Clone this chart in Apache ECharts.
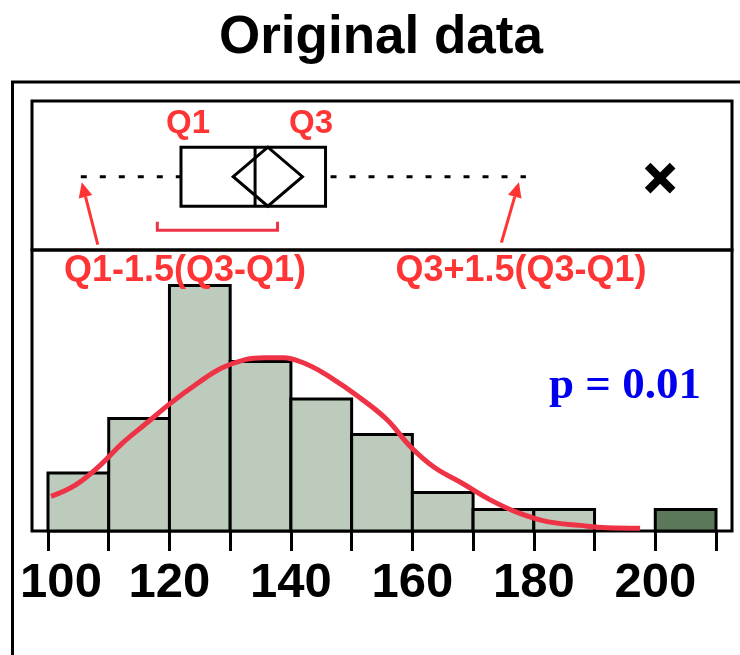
<!DOCTYPE html>
<html>
<head>
<meta charset="utf-8">
<script src="https://cdn.jsdelivr.net/npm/echarts@6/dist/echarts.min.js"></script>
<style>
  html, body { margin: 0; padding: 0; background: #fff; }
  #chart { width: 740px; height: 655px; }
</style>
</head>
<body>
<div id="chart"></div>
<script>
// histogram bins (left edges, width 10), percent of observations
const binEdges = [100, 110, 120, 130, 140, 150, 160, 170, 180]
const binPct = [6.2, 12.0, 26.2, 18.1, 14.1, 10.3, 4.1, 2.3, 2.3]
const binWidth = 10
// the outlying bin, drawn darker
const outlierBin = [200, 210, 2.3]

// fitted normal curve
const curveX = [100.5, 104.5, 108.4, 112.3, 116.2, 120.1, 124.7, 128.6, 132.5, 135.6, 138.7, 142.6, 146.5, 151.2, 155.8, 159.7, 163.6, 168.2, 172.9, 177.6, 182.2, 187.6, 192, 197.5]
const curveY = [3.7, 4.9, 6.9, 9.4, 11.5, 13.6, 15.8, 17.4, 18.3, 18.5, 18.5, 17.8, 16.4, 14.3, 11.9, 9.0, 6.8, 5.1, 3.3, 1.9, 1.0, 0.6, 0.35, 0.3]

// box plot: low whisker, Q1, median, Q3, high whisker
const boxStats = [105.4, 121.9, 134.1, 145.7, 178.7]
// mean diamond: lower, mean, upper
const meanDiamond = [130.5, 136.2, 141.9]
// red bracket under the box
const bracket = [118.0, 137.8]
const outliers = [200.8]

const xTicks = [100, 110, 120, 130, 140, 150, 160, 170, 180, 190, 200, 210]
const xTickLabels = [100, 120, 140, 160, 180, 200]

const red = '#ff3434'
const curveRed = '#ee3347'
const labelFont = '"Liberation Sans", Arial, sans-serif'

// panel runs 16px past the first and last tick (668px for 110 units)
const pad = 16 * 110 / 668
const xMin = 100 - pad
const xMax = 210 + pad

function arrow(tip, tail) {
  const dx = tip[0] - tail[0]
  const dy = tip[1] - tail[1]
  const len = Math.sqrt(dx * dx + dy * dy)
  const ux = dx / len
  const uy = dy / len
  const hl = 15
  const hw = 7
  const bx = tip[0] - ux * hl
  const by = tip[1] - uy * hl
  return [
    { type: 'line', shape: { x1: tail[0], y1: tail[1], x2: bx, y2: by }, style: { stroke: red, lineWidth: 3 } },
    { type: 'polygon', shape: { points: [tip, [bx - uy * hw, by + ux * hw], [bx + uy * hw, by - ux * hw]] }, style: { fill: red } },
  ]
}

function renderBox(params, api) {
  const cs = params.coordSys
  const yc = cs.y + cs.height * 0.508
  const hh = 29.5
  const px = v => api.coord([v, 0])[0]
  const wLo = px(boxStats[0])
  const q1 = px(boxStats[1])
  const med = px(boxStats[2])
  const q3 = px(boxStats[3])
  const wHi = px(boxStats[4])
  const dL = px(meanDiamond[0])
  const dM = px(meanDiamond[1])
  const dR = px(meanDiamond[2])
  const bL = px(bracket[0])
  const bR = px(bracket[1])
  const children = [
    { type: 'line', shape: { x1: wLo, y1: yc, x2: q1, y2: yc }, style: { stroke: '#000', lineWidth: 3, lineDash: [6, 13] } },
    { type: 'line', shape: { x1: q3, y1: yc, x2: wHi, y2: yc }, style: { stroke: '#000', lineWidth: 3, lineDash: [6, 13], lineDashOffset: 14 } },
    { type: 'rect', shape: { x: q1, y: yc - hh, width: q3 - q1, height: hh * 2 }, style: { fill: '#fff', stroke: '#000', lineWidth: 3 } },
    { type: 'line', shape: { x1: med, y1: yc - hh, x2: med, y2: yc + hh }, style: { stroke: '#000', lineWidth: 3 } },
    { type: 'polygon', shape: { points: [[dL, yc], [dM, yc - hh], [dR, yc], [dM, yc + hh]] }, style: { fill: 'none', stroke: '#000', lineWidth: 3 } },
    { type: 'polyline', shape: { points: [[bL, yc + 45], [bL, yc + 53.5], [bR, yc + 53.5], [bR, yc + 45]] }, style: { fill: 'none', stroke: curveRed, lineWidth: 3 } },
  ]
  outliers.forEach(v => {
    const ox = px(v)
    const oy = yc + 1.5
    const s = 12.5
    children.push({ type: 'line', shape: { x1: ox - s, y1: oy - s, x2: ox + s, y2: oy + s }, style: { stroke: '#000', lineWidth: 8 } })
    children.push({ type: 'line', shape: { x1: ox - s, y1: oy + s, x2: ox + s, y2: oy - s }, style: { stroke: '#000', lineWidth: 8 } })
  })
  arrow([wLo + 1, yc + 5.5], [wLo + 17, yc + 68]).forEach(c => children.push(c))
  arrow([wHi - 7, yc + 5.5], [wHi - 24.5, yc + 66]).forEach(c => children.push(c))
  return { type: 'group', children }
}

function renderBar(fill) {
  return function (params, api) {
    const a = api.coord([api.value(0), 0])
    const b = api.coord([api.value(1), api.value(2)])
    return {
      type: 'rect',
      shape: { x: a[0], y: b[1], width: b[0] - a[0], height: a[1] - b[1] },
      style: { fill, stroke: '#000', lineWidth: 3 },
    }
  }
}

const option = {
  animation: false,
  grid: [
    { left: 32, top: 101, width: 700, height: 149, show: true, borderColor: '#000', borderWidth: 3, backgroundColor: 'transparent' },
    { left: 32, top: 250, width: 700, height: 281, show: true, borderColor: '#000', borderWidth: 3, backgroundColor: 'transparent' },
  ],
  xAxis: [
    { gridIndex: 0, type: 'value', min: xMin, max: xMax, show: false },
    {
      gridIndex: 1,
      type: 'value',
      min: xMin,
      max: xMax,
      axisLine: { show: false },
      splitLine: { show: false },
      axisTick: { show: true, customValues: xTicks, length: 20, lineStyle: { color: '#000', width: 3 } },
      axisLabel: {
        customValues: xTickLabels,
        margin: 28,
        color: '#000',
        fontSize: 49,
        fontWeight: 'bold',
        fontFamily: labelFont,
        formatter: v => (v === xTickLabels[0] ? '{first|' + v + '}' : String(v)),
        rich: {
          first: { padding: [0, 0, 0, 26], color: '#000', fontSize: 49, fontWeight: 'bold', fontFamily: labelFont },
        },
      },
    },
  ],
  yAxis: [
    { gridIndex: 0, type: 'value', min: 0, max: 1, show: false },
    { gridIndex: 1, type: 'value', min: 0, max: 30, show: false },
  ],
  graphic: [
    { type: 'rect', shape: { x: 12.5, y: 82, width: 800, height: 700 }, style: { fill: 'none', stroke: '#000', lineWidth: 3 }, z: 0 },
    { type: 'text', x: 381, y: 38, style: { text: 'Original data', textAlign: 'center', textVerticalAlign: 'middle', font: 'bold 53px ' + labelFont, fill: '#000' }, z: 100 },
    { type: 'text', x: 188, y: 124, style: { text: 'Q1', textAlign: 'center', textVerticalAlign: 'middle', font: 'bold 33px ' + labelFont, fill: red }, z: 100 },
    { type: 'text', x: 311, y: 124, style: { text: 'Q3', textAlign: 'center', textVerticalAlign: 'middle', font: 'bold 33px ' + labelFont, fill: red }, z: 100 },
    { type: 'text', x: 185, y: 271, style: { text: 'Q1-1.5(Q3-Q1)', textAlign: 'center', textVerticalAlign: 'middle', font: 'bold 36px ' + labelFont, fill: red }, z: 100 },
    { type: 'text', x: 521, y: 271, style: { text: 'Q3+1.5(Q3-Q1)', textAlign: 'center', textVerticalAlign: 'middle', font: 'bold 36px ' + labelFont, fill: red }, z: 100 },
    { type: 'text', x: 625, y: 386, style: { text: 'p = 0.01', textAlign: 'center', textVerticalAlign: 'middle', font: 'bold 45px "Liberation Serif", "Times New Roman", serif', fill: '#0000ee' }, z: 100 },
  ],
  series: [
    {
      name: 'Box',
      type: 'custom',
      xAxisIndex: 0,
      yAxisIndex: 0,
      renderItem: renderBox,
      data: [[boxStats[2], 0.5]],
      encode: { x: 0, y: 1 },
      z: 5,
    },
    {
      name: 'Histogram',
      type: 'custom',
      xAxisIndex: 1,
      yAxisIndex: 1,
      renderItem: renderBar('#bccbbc'),
      data: binEdges.map((s, i) => [s, s + binWidth, binPct[i]]),
      encode: { x: [0, 1], y: 2 },
      z: 2,
    },
    {
      name: 'Outlier bin',
      type: 'custom',
      xAxisIndex: 1,
      yAxisIndex: 1,
      renderItem: renderBar('#5b785b'),
      data: [outlierBin],
      encode: { x: [0, 1], y: 2 },
      z: 2,
    },
    {
      name: 'Normal fit',
      type: 'line',
      xAxisIndex: 1,
      yAxisIndex: 1,
      data: curveX.map((x, i) => [x, curveY[i]]),
      smooth: 0.4,
      showSymbol: false,
      lineStyle: { color: curveRed, width: 5 },
      z: 4,
    },
  ],
}

const myChart = echarts.init(document.getElementById('chart'))
myChart.setOption(option)
</script>
</body>
</html>
